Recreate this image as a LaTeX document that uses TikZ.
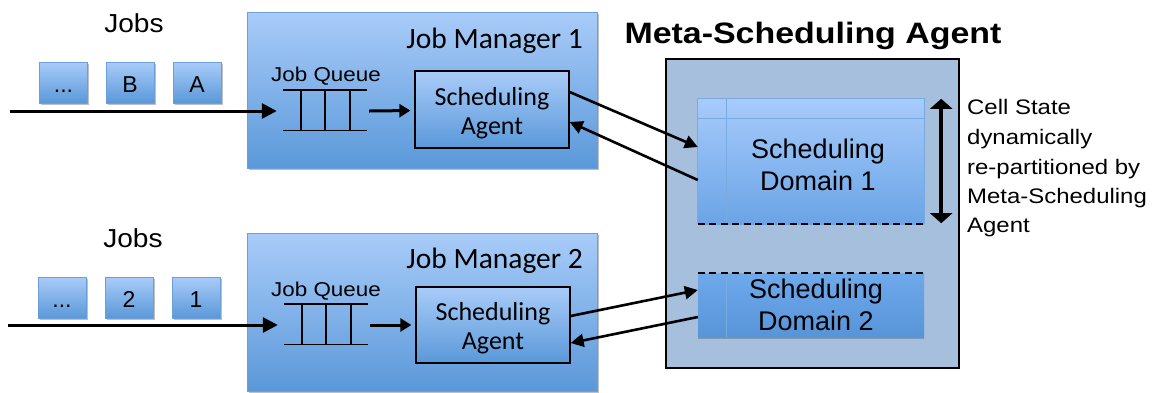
\documentclass[tikz,border=0pt]{standalone}
\usepackage{fontspec}
\setmainfont{Liberation Sans}
\newfontfamily\calfont{Carlito}
\usetikzlibrary{arrows.meta,shadows,calc}
\definecolor{boxtop}{HTML}{A9CCF9}
\definecolor{boxbot}{HTML}{5A98D9}
\definecolor{boxedge}{HTML}{6C9FD8}
\definecolor{metafill}{HTML}{A6BFDD}
\definecolor{domtop}{HTML}{A7CBFB}
\definecolor{dombot}{HTML}{6AA4E6}
\definecolor{domedge}{HTML}{7AABE0}
\definecolor{dtwotop}{HTML}{6EA9EC}
\definecolor{dtwobot}{HTML}{5894D8}
\newcommand{\sx}[2]{\scalebox{#1}[1]{#2}}
\tikzset{
  softshadow/.style={drop shadow={shadow xshift=1.5pt, shadow yshift=-1.5pt, opacity=0.25, fill=black}},
  jobbox/.style={draw=boxedge, line width=0.8pt, top color=boxtop, bottom color=boxbot,
     minimum width=48pt, minimum height=41pt, inner sep=0pt, softshadow,
     font=\fontsize{23}{23}\selectfont, text height=20pt, text depth=0pt},
  mgrbox/.style={draw=boxedge, line width=0.8pt, top color=boxtop, bottom color=boxbot,
     minimum width=350pt, inner sep=0pt, softshadow},
  agentbox/.style={draw=black, line width=1.3pt, top color=boxtop, bottom color=boxbot,
     minimum width=154pt, minimum height=77pt, inner sep=0pt},
  metabox/.style={draw=black, line width=1.3pt, fill=metafill, inner sep=0pt},
  qbox/.style={minimum width=84pt, minimum height=40pt, inner sep=0pt},
  txt/.style={anchor=base, inner sep=0pt},
  flow/.style={line width=3pt, -{Triangle[length=15pt,width=15pt]}},
  shortflow/.style={line width=3pt, -{Triangle[length=11pt,width=13pt]}},
  link/.style={line width=2.6pt, -{Triangle[length=13pt,width=13pt]}},
  qline/.style={line width=1.4pt},
  domline/.style={draw=domedge, line width=0.9pt},
  dashline/.style={line width=1.8pt, dash pattern=on 7pt off 4.5pt},
}
\begin{document}
\begin{tikzpicture}[x=1pt,y=-1pt]
\useasboundingbox (0,0) rectangle (1161,392);

% ---------- job manager 1 ----------
\node[mgrbox, minimum height=156pt] (jm1) at (422,90) {};
\node[txt, anchor=base east, font=\calfont\fontsize{29.5}{29.5}\selectfont] (jm1t) at (583,48) {Job Manager 1};
\node[txt, font=\fontsize{20}{20}\selectfont] (jq1t) at (326,81) {\sx{1.12}{Job Queue}};
\node[qbox] (q1) at (325,110) {};
\draw[qline] (q1.north west) -- (q1.north east);
\draw[qline] (q1.south west) -- (q1.south east);
\foreach \o in {18,42,67} \draw[qline] ([xshift=\o pt]q1.north west) -- ([xshift=\o pt]q1.south west);
\node[agentbox] (sa1) at (492,109.5) {};
\node[txt, font=\calfont\fontsize{26}{26}\selectfont] (sa1a) at (492,105) {Scheduling};
\node[txt, font=\calfont\fontsize{26}{26}\selectfont] (sa1b) at (492,134) {Agent};

% ---------- job manager 2 ----------
\node[mgrbox, minimum height=158pt] (jm2) at (422,312) {};
\node[txt, anchor=base east, font=\calfont\fontsize{29.5}{29.5}\selectfont] (jm2t) at (583,268) {Job Manager 2};
\node[txt, font=\fontsize{20}{20}\selectfont] (jq2t) at (326,296) {\sx{1.12}{Job Queue}};
\node[qbox] (q2) at (326,324) {};
\draw[qline] (q2.north west) -- (q2.north east);
\draw[qline] (q2.south west) -- (q2.south east);
\foreach \o in {18,42,67} \draw[qline] ([xshift=\o pt]q2.north west) -- ([xshift=\o pt]q2.south west);
\node[agentbox, minimum height=76pt] (sa2) at (493,325) {};
\node[txt, font=\calfont\fontsize{26}{26}\selectfont] (sa2a) at (493,320) {Scheduling};
\node[txt, font=\calfont\fontsize{26}{26}\selectfont] (sa2b) at (493,349) {Agent};

% ---------- jobs ----------
\node[txt, font=\fontsize{26}{26}\selectfont] (jobs1) at (134,32) {\sx{1.08}{Jobs}};
\node[jobbox] (j1c) at (63.5,82.5) {...};
\node[jobbox] (j1b) at (130,82.5) {B};
\node[jobbox] (j1a) at (197,82.5) {A};
\node[txt, font=\fontsize{26}{26}\selectfont] (jobs2) at (133,247) {\sx{1.08}{Jobs}};
\node[jobbox] (j2c) at (62,297.5) {...};
\node[jobbox] (j2b) at (129,297.5) {2};
\node[jobbox] (j2a) at (196,297.5) {1};

\coordinate (src1) at (10,111);
\coordinate (src2) at (8,325);
\draw[flow, shorten >=6pt] (src1) -- (src1 -| q1.west);
\draw[flow, shorten >=6pt] (src2) -- (src2 -| q2.west);
\draw[shortflow, shorten >=4pt] ([xshift=2pt,yshift=-1pt]q1.east) -- ([yshift=-1pt]sa1.west);
\draw[shortflow, shorten >=4pt] ([xshift=2pt,yshift=-1pt]q2.east) -- ([yshift=-1pt]q2.east -| sa2.west);

% ---------- meta-scheduling agent ----------
\node[txt, font=\bfseries\fontsize{29.5}{29.5}\selectfont] (title) at (813,43) {\sx{1.15}{Meta-Scheduling Agent}};
\node[metabox, minimum width=293pt, minimum height=309pt] (meta) at (812.5,213.5) {};

% domain 1
\node[top color=domtop, bottom color=dombot, minimum width=226pt, minimum height=125pt, inner sep=0pt] (dom1) at (811,161.5) {};
\draw[domline] (dom1.south west) -- (dom1.north west) -- (dom1.north east) -- (dom1.south east);
\draw[domline] ([yshift=-20pt]dom1.north west) -- ([yshift=-20pt]dom1.north east);
\draw[domline] ([xshift=29pt]dom1.north west) -- ([xshift=29pt]dom1.south west);
\draw[dashline] (dom1.south west) -- (dom1.south east);
\node[txt, font=\fontsize{27}{27}\selectfont] (d1a) at (818,158) {Scheduling};
\node[txt, font=\fontsize{27}{27}\selectfont] (d1b) at (818,190) {Domain 1};

% domain 2
\node[top color=dtwotop, bottom color=dtwobot, minimum width=226pt, minimum height=64pt, inner sep=0pt,
      drop shadow={shadow xshift=0pt, shadow yshift=-1.5pt, opacity=0.2, fill=black}] (dom2) at (811,305) {};
\draw[domline] ([xshift=29pt]dom2.north west) -- ([xshift=29pt]dom2.south west);
\draw[dashline] (dom2.north west) -- (dom2.north east);
\node[txt, font=\fontsize{27}{27}\selectfont] (d2a) at (816,298) {Scheduling};
\node[txt, font=\fontsize{27}{27}\selectfont] (d2b) at (816,330) {Domain 2};

% double arrow
\draw[line width=4pt, {Triangle[length=10pt,width=22pt]}-{Triangle[length=10pt,width=22pt]}]
  ([xshift=17pt]dom1.north east) -- ([xshift=17pt,yshift=1pt]dom1.south east);

% cell state text
\begin{scope}[every node/.style={txt, anchor=base west, font=\fontsize{21}{21}\selectfont}]
\node (c1) at (967,114) {\sx{1.14}{Cell State}};
\node (c2) at (967,144) {\sx{1.14}{dynamically}};
\node (c3) at (967,174) {\sx{1.14}{re-partitioned by}};
\node (c4) at (967,203) {\sx{1.14}{Meta-Scheduling}};
\node (c5) at (967,232) {\sx{1.14}{Agent}};
\end{scope}

% agent <-> domain links
\draw[link] ([yshift=17.5pt]sa1.east) -- ([yshift=14.5pt]dom1.west);
\draw[link] ([yshift=-18.5pt]dom1.west) -- ([yshift=-12.5pt]sa1.east);
\draw[link] ([yshift=9pt]sa2.east) -- ([yshift=15pt]dom2.west);
\draw[link] ([yshift=-12pt]dom2.west) -- ([yshift=-18pt]sa2.east);
\end{tikzpicture}
\end{document}
